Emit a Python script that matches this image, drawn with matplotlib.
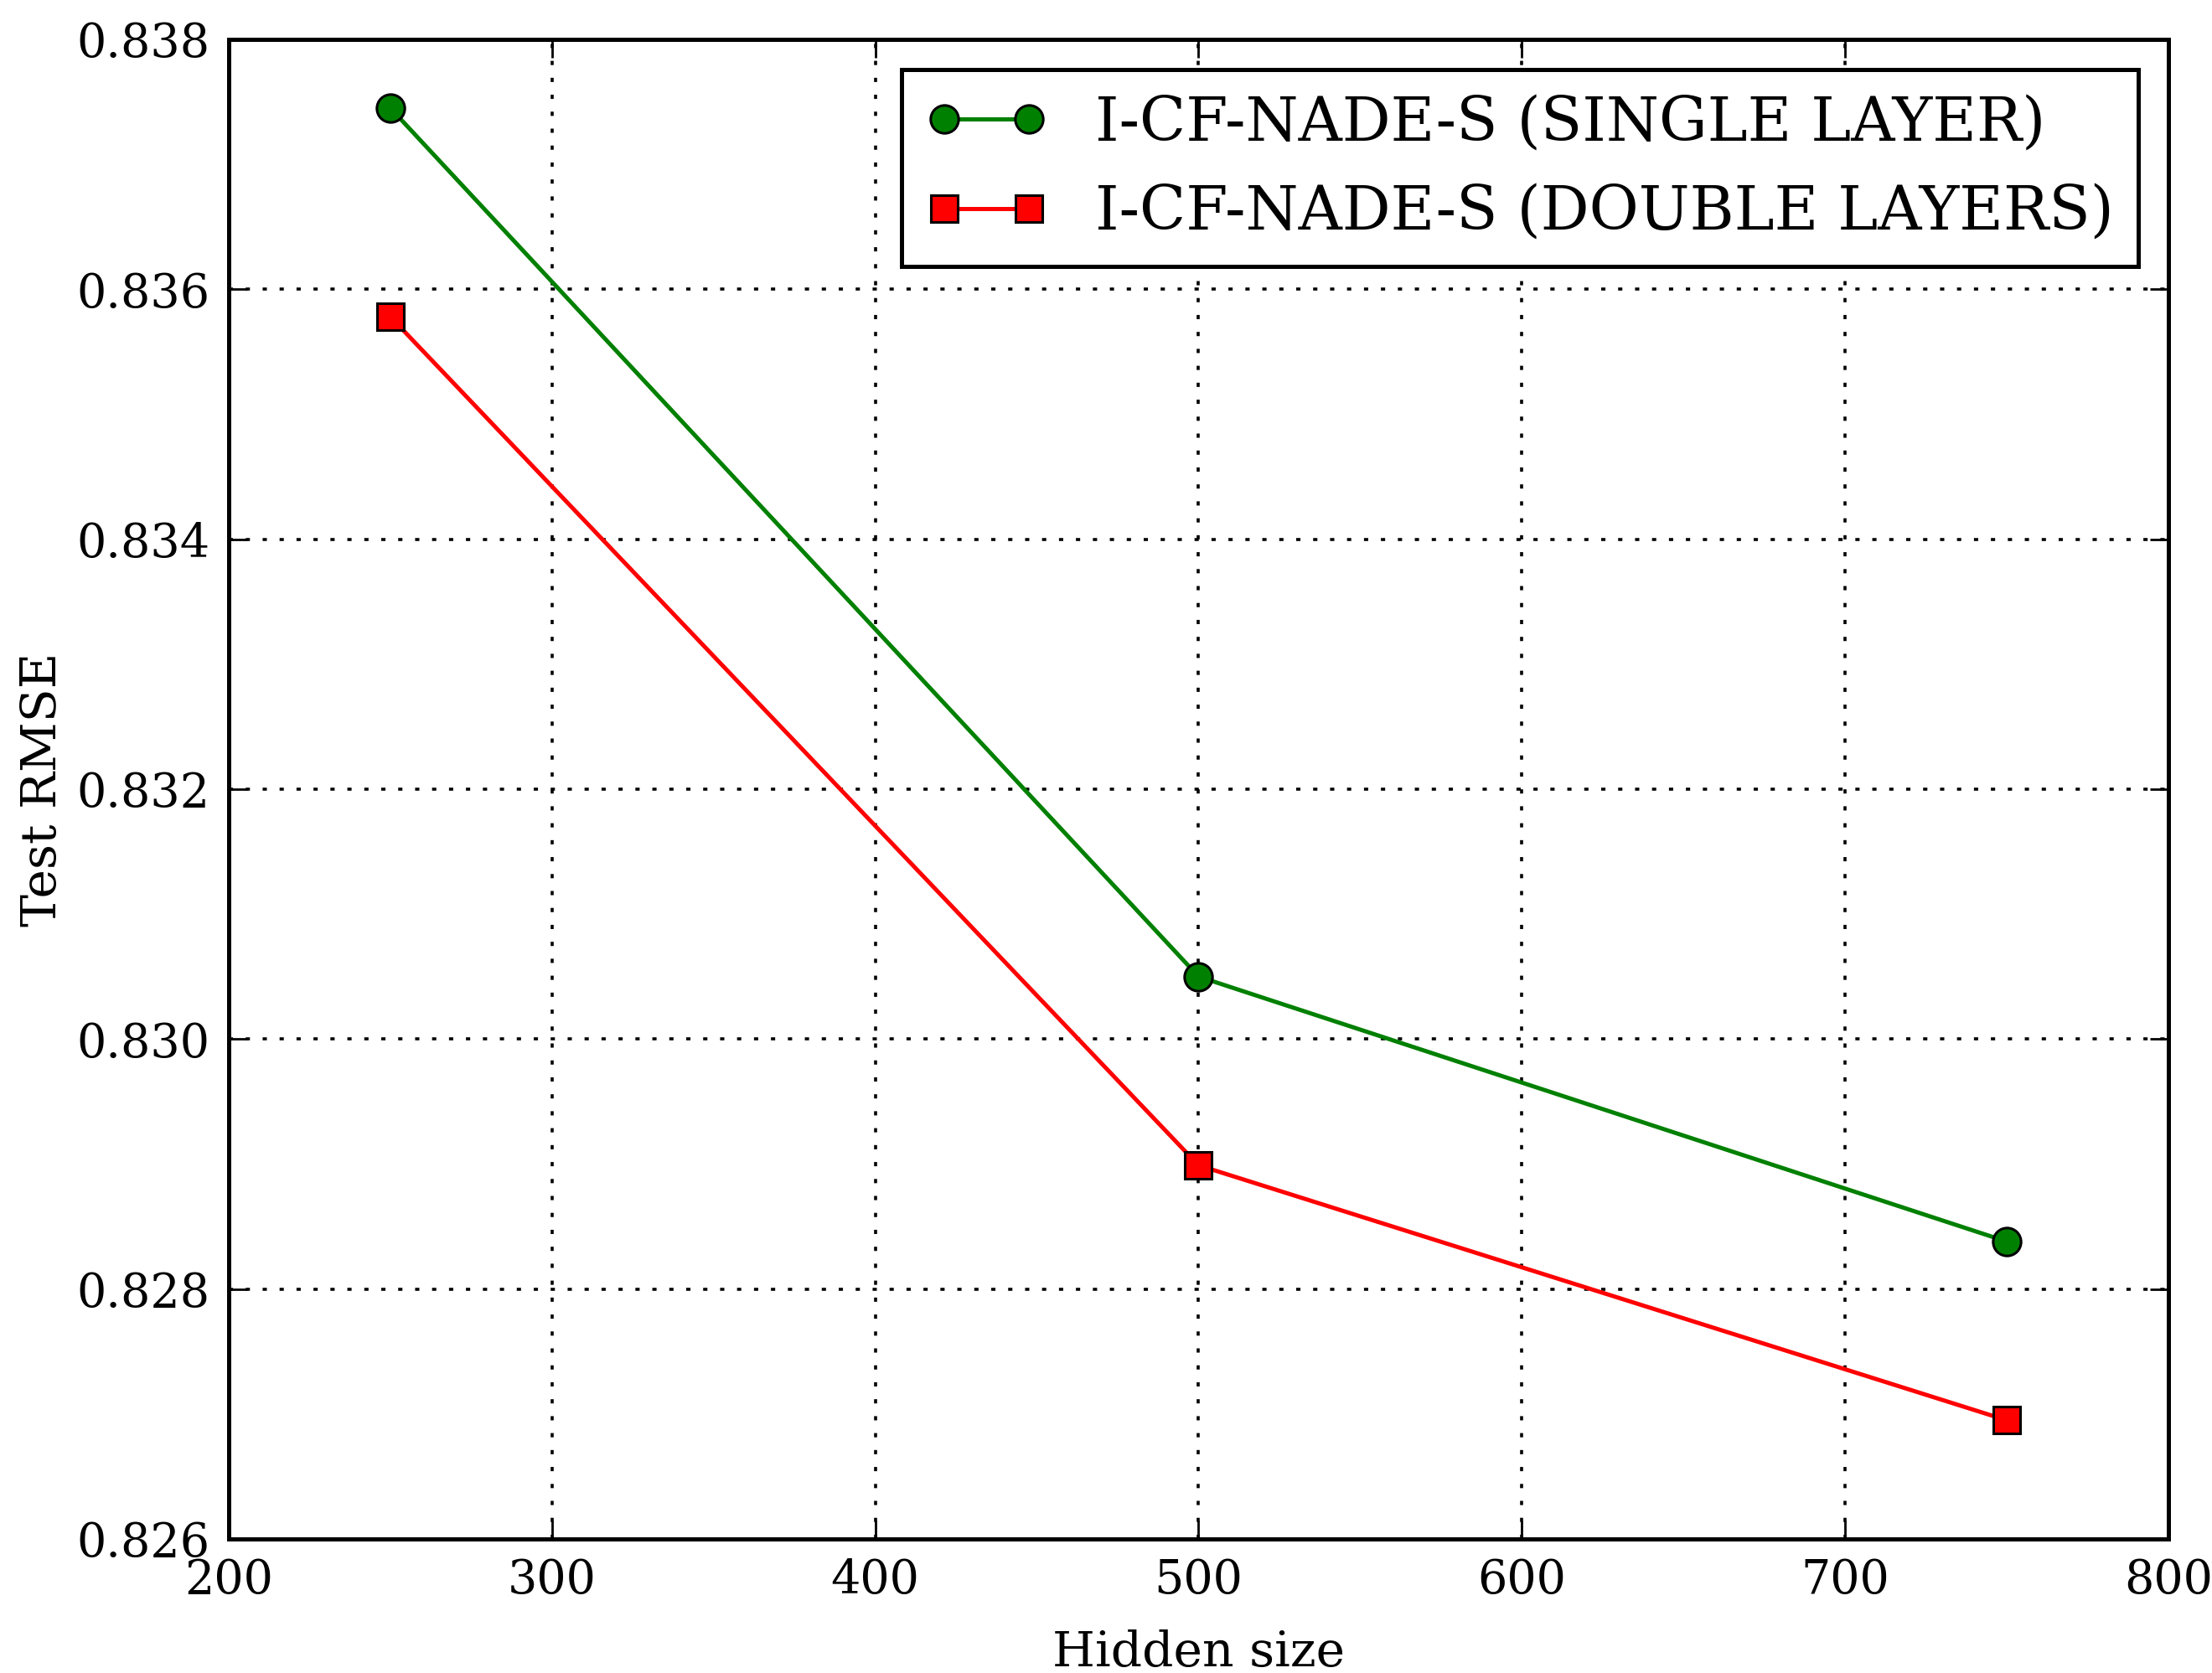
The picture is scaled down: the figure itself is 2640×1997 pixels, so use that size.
import matplotlib
matplotlib.use('Agg')
import matplotlib.pyplot as plt

# data
hidden_size = [250, 500, 750]
rmse_single = [0.83745, 0.83050, 0.82838]
rmse_double = [0.83578, 0.82899, 0.82695]
x_ticks = [200, 300, 400, 500, 600, 700, 800]
y_ticks = [0.826, 0.828, 0.830, 0.832, 0.834, 0.836, 0.838]

plt.rcParams['font.family'] = ['DejaVu Serif']
plt.rcParams['xtick.direction'] = 'in'
plt.rcParams['ytick.direction'] = 'in'

fig = plt.figure(figsize=(13.2, 9.985), dpi=200)
ax = fig.add_axes([0.1034, 0.0801, 0.8769, 0.8964])

ax.plot(hidden_size, rmse_single, color='green', linewidth=1.8, marker='o',
        markersize=12, markerfacecolor='green', markeredgecolor='black',
        markeredgewidth=1.1, label='I-CF-NADE-S (SINGLE LAYER)')
ax.plot(hidden_size, rmse_double, color='red', linewidth=1.8, marker='s',
        markersize=11.5, markerfacecolor='red', markeredgecolor='black',
        markeredgewidth=1.1, label='I-CF-NADE-S (DOUBLE LAYERS)')

ax.set_xlim(200, 800)
ax.set_ylim(0.826, 0.838)
ax.set_xticks(x_ticks)
ax.set_yticks(y_ticks)
ax.set_yticklabels([f'{v:.3f}' for v in y_ticks])
ax.tick_params(axis='both', which='major', labelsize=20, length=8, width=1,
               top=True, right=True, pad=8)
for sp in ax.spines.values():
    sp.set_linewidth(1.8)

ax.grid(True, color='black', linestyle=(0, (1.4, 4.2)), linewidth=1.3)
ax.set_xlabel('Hidden size', fontsize=21, labelpad=11)
ax.set_ylabel('Test RMSE', fontsize=21)
ax.yaxis.set_label_coords(-0.084, 0.5)

leg = ax.legend(loc='upper right', fontsize=26, numpoints=2, handlelength=2.0,
                fancybox=False, framealpha=1, edgecolor='black',
                borderaxespad=0.5)
leg.get_frame().set_linewidth(1.8)

fig.savefig('out.png', dpi=200, facecolor='white')
